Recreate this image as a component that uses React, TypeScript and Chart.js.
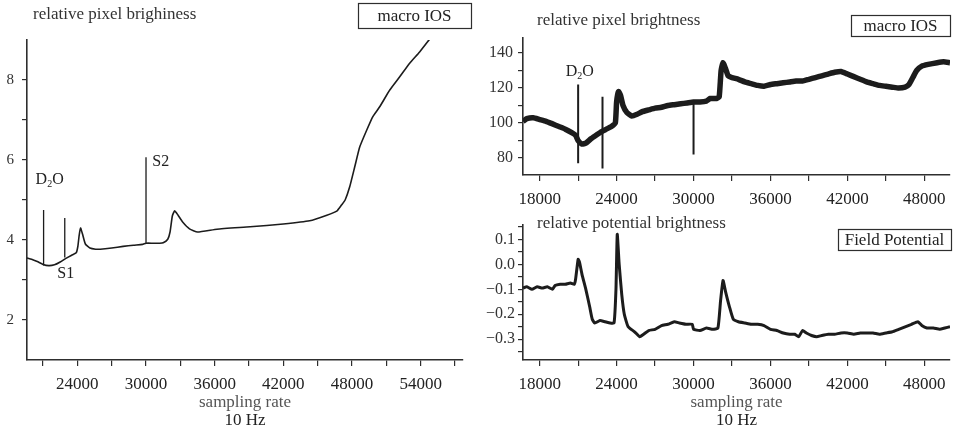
import React, { useEffect, useRef } from "react";
import { Chart, registerables } from "chart.js";

Chart.register(...registerables);

const SERIF = "'Liberation Serif', 'Times New Roman', serif";
const INK = "#1c1c1c";
const AXIS = "#2e2e2e";
const TEXT = "#333333";

// ---- Macro IOS, whole recording (left panel) ----
const iosFullX = [
  19600, 20000, 20500, 21000, 21500, 22000, 22500, 23000, 23500, 23900,
  24050, 24150, 24280, 24450, 24700, 25100, 25600, 26000, 27000, 28000,
  28900, 29700, 30000, 30600, 31200, 31500, 31900, 32100, 32300, 32500,
  32800, 33200, 33800, 34500, 36200, 39100, 42000, 44300, 45800, 46700,
  47100, 47400, 47800, 48240, 48680, 49290, 49810, 50420, 51300, 52170,
  53040, 53910, 54780,
];
const iosFullY = [
  3.55, 3.52, 3.46, 3.39, 3.36, 3.38, 3.45, 3.54, 3.62, 3.68,
  3.85, 4.1, 4.3, 4.15, 3.9, 3.8, 3.77, 3.77, 3.8, 3.84,
  3.87, 3.89, 3.92, 3.92, 3.92, 3.93, 4.02, 4.2, 4.6, 4.73,
  4.62, 4.45, 4.28, 4.2, 4.27, 4.33, 4.4, 4.48, 4.62, 4.73,
  4.88, 5.0, 5.33, 5.83, 6.33, 6.75, 7.08, 7.33, 7.75, 8.08,
  8.42, 8.7, 9.02,
];
// stimulus artifacts drawn as vertical strokes
const iosFullMarkX = [21050, 22900, 30000];
const iosFullMarkTop = [4.75, 4.55, 6.07];
const iosFullMarkBottom = [3.36, 3.56, 3.92];
const iosFullNoteText = ["D_2O", "S1", "S2"];
const iosFullNoteX = [20350, 22250, 30550];
const iosFullNoteY = [5.5, 3.15, 5.95];
const iosFullXTicks = [21000, 24000, 27000, 30000, 33000, 36000, 39000, 42000, 45000, 48000, 51000, 54000, 57000];
const iosFullYTicks = [2, 3, 4, 5, 6, 7, 8];

// ---- Macro IOS, window (right top panel) ----
const iosX = [
  16700, 17000, 17500, 18000, 18500, 19000, 19500, 20000, 20500, 20800,
  21000, 21300, 21600, 22000, 22400, 22800, 23200, 23600, 23900, 24000,
  24150, 24300, 24500, 24800, 25200, 25600, 26000, 26500, 27000, 27500,
  28000, 28500, 29000, 29500, 30000, 30500, 31000, 31300, 31800, 32000,
  32150, 32300, 32500, 32700, 33000, 33500, 34000, 34500, 35000, 35500,
  36000, 36500, 37000, 37500, 38000, 38500, 39000, 39500, 40000, 40500,
  41000, 41500, 42000, 42500, 43000, 43500, 44000, 44500, 45000, 45500,
  46000, 46500, 46800, 47100, 47400, 47800, 48300, 49000, 49500, 50000,
];
const iosY = [
  101, 102.5, 103, 102, 101, 99.5, 98, 96.5, 94.5, 93,
  90, 88, 88.5, 91, 93, 95, 96.5, 98, 100, 112,
  118, 116, 110, 106, 104, 105, 106.5, 107.5, 108.5, 109,
  110, 110.5, 111, 111.5, 112, 112, 112.5, 114, 114, 115,
  130, 134.5, 131, 127, 126, 125, 123.5, 122.5, 121.5, 121,
  122, 122.5, 123, 123.5, 124, 124, 125, 126, 127, 128,
  129, 129.5, 128, 126.5, 125, 123.5, 122.5, 121.5, 121, 120.5,
  120, 120.5, 122, 126, 130, 132.5, 133.5, 134.5, 135, 134.5,
];
const iosMarkX = [21000, 22900, 30000];
const iosMarkTop = [122, 115, 111];
const iosMarkBottom = [77, 74, 82];
const iosNoteText = ["D_2O"];
const iosNoteX = [20030];
const iosNoteY = [129];
const iosYTicks = [80, 90, 100, 110, 120, 130, 140];

// ---- Field potential (right bottom panel) ----
const fpX = [
  16700, 17000, 17400, 17800, 18200, 18600, 19000, 19200, 19600, 20000,
  20400, 20700, 20800, 21000, 21100, 21300, 21600, 21900, 22100, 22300,
  22700, 23100, 23500, 23800, 23950, 24050, 24200, 24400, 24600, 24900,
  25400, 25800, 26100, 26500, 27000, 27500, 28000, 28500, 28900, 29400,
  29900, 30000, 30500, 31000, 31500, 31900, 32100, 32300, 32500, 32800,
  33100, 33500, 34000, 34500, 35000, 35500, 36000, 36500, 37000, 37500,
  37900, 38200, 38500, 38800, 39200, 39600, 40000, 40500, 41000, 41500,
  42000, 42500, 43000, 43500, 44000, 44500, 45000, 45500, 46000, 46500,
  47000, 47500, 47800, 48200, 48700, 49200, 49600, 50000,
];
const fpY = [
  -0.095, -0.09, -0.1, -0.09, -0.095, -0.09, -0.1, -0.085, -0.08, -0.08,
  -0.075, -0.08, -0.06, 0.02, 0.01, -0.04, -0.1, -0.17, -0.22, -0.235,
  -0.225, -0.23, -0.235, -0.235, -0.1, 0.12, 0.0, -0.12, -0.2, -0.25,
  -0.27, -0.29, -0.28, -0.265, -0.26, -0.245, -0.24, -0.23, -0.235, -0.24,
  -0.24, -0.26, -0.265, -0.255, -0.26, -0.255, -0.15, -0.065, -0.11, -0.17,
  -0.22, -0.23, -0.235, -0.24, -0.24, -0.245, -0.26, -0.265, -0.275, -0.28,
  -0.28, -0.29, -0.265, -0.275, -0.285, -0.29, -0.285, -0.28, -0.28, -0.275,
  -0.275, -0.28, -0.275, -0.275, -0.275, -0.28, -0.275, -0.27, -0.26, -0.25,
  -0.24, -0.23, -0.245, -0.255, -0.255, -0.26, -0.255, -0.25,
];
const fpYTicks = [-35, -30, -25, -20, -15, -10, -5, 0, 5, 10, 15].map((v) => v / 100);

// shared x ticks for the two right panels
const windowXTicks = [18000, 21000, 24000, 27000, 30000, 33000, 36000, 39000, 42000, 45000, 48000];

type Note = { text: string; x: number; y: number };
type Decor = {
  title: { text: string; x: number; y: number };
  legend: { text: string; box: [number, number, number, number] };
  notes: Note[];
  axisTitle?: { y: number };
};

function drawNote(ctx: CanvasRenderingContext2D, text: string, x: number, y: number, size: number) {
  // "_" marks the next character as a subscript
  let cx = x;
  for (let i = 0; i < text.length; i++) {
    const ch = text[i];
    if (ch === "_" && i + 1 < text.length) {
      const sub = text[i + 1];
      ctx.font = `${Math.round(size * 0.6)}px ${SERIF}`;
      ctx.fillText(sub, cx, y + size * 0.28);
      cx += ctx.measureText(sub).width;
      i++;
    } else {
      ctx.font = `${size}px ${SERIF}`;
      ctx.fillText(ch, cx, y);
      cx += ctx.measureText(ch).width;
    }
  }
}

const decorPlugin = {
  id: "decor",
  afterDraw(chart: any, _args: any, opts: Decor) {
    const { ctx, scales, chartArea } = chart;
    ctx.save();
    ctx.fillStyle = TEXT;
    ctx.textBaseline = "middle";
    ctx.textAlign = "left";
    ctx.font = `17px ${SERIF}`;
    ctx.fillText(opts.title.text, opts.title.x, opts.title.y);

    const [l, t, r, b] = opts.legend.box;
    ctx.strokeStyle = AXIS;
    ctx.lineWidth = 1.2;
    ctx.strokeRect(l + 0.5, t + 0.5, r - l, b - t);
    ctx.textAlign = "center";
    ctx.fillStyle = "#222";
    ctx.fillText(opts.legend.text, (l + r) / 2, (t + b) / 2 + 1);

    ctx.textAlign = "left";
    ctx.fillStyle = "#222";
    for (const n of opts.notes) {
      drawNote(ctx, n.text, scales.x.getPixelForValue(n.x), scales.y.getPixelForValue(n.y), 16);
    }

    if (opts.axisTitle) {
      const cx = (chartArea.left + chartArea.right) / 2;
      ctx.textAlign = "center";
      ctx.font = `17px ${SERIF}`;
      ctx.fillStyle = "#555";
      ctx.fillText("sampling rate", cx, opts.axisTitle.y);
      ctx.fillStyle = "#222";
      ctx.fillText("10 Hz", cx, opts.axisTitle.y + 18);
    }
    ctx.restore();
  },
};

type PanelSpec = {
  w: number;
  h: number;
  area: { l: number; t: number; r: number; b: number };
  xs: number[];
  ys: number[];
  markX: number[];
  markTop: number[];
  markBottom: number[];
  lineWidth: number;
  markWidth: number;
  xMin: number;
  xMax: number;
  xTicks: number[];
  yMin: number;
  yMax: number;
  yTicks: number[];
  yLabel: (v: number) => string;
  yFont: number;
  yPad: number;
  decor: Decor;
};

function buildConfig(p: PanelSpec): any {
  const series = p.xs.map((x, i) => ({ x, y: p.ys[i] }));
  const marks: any[] = [];
  p.markX.forEach((x, i) => {
    marks.push({ x, y: p.markTop[i] }, { x, y: p.markBottom[i] }, { x, y: null });
  });
  return {
    type: "line",
    data: {
      datasets: [
        {
          data: series,
          borderColor: INK,
          borderWidth: p.lineWidth,
          pointRadius: 0,
          tension: 0.15,
          fill: false,
        },
        {
          data: marks,
          borderColor: INK,
          borderWidth: p.markWidth,
          pointRadius: 0,
          spanGaps: false,
          fill: false,
        },
      ],
    },
    options: {
      responsive: false,
      animation: false,
      events: [],
      layout: { padding: { left: 0, top: p.area.t, right: p.w - p.area.r, bottom: 0 } },
      plugins: {
        legend: { display: false },
        tooltip: { enabled: false },
        decor: p.decor,
      },
      scales: {
        x: {
          type: "linear",
          min: p.xMin,
          max: p.xMax,
          afterBuildTicks: (s: any) => {
            s.ticks = p.xTicks.map((value) => ({ value }));
          },
          afterFit: (s: any) => {
            s.height = p.h - p.area.b;
          },
          ticks: {
            autoSkip: false,
            maxRotation: 0,
            padding: 8,
            color: "#222",
            font: { family: SERIF, size: 17 },
            callback: (v: number) => (v % 6000 === 0 ? String(v) : ""),
          },
          grid: { drawOnChartArea: false, drawTicks: true, tickLength: 6, color: AXIS, lineWidth: 1.2 },
          border: { color: AXIS, width: 1.6 },
        },
        y: {
          type: "linear",
          min: p.yMin,
          max: p.yMax,
          afterBuildTicks: (s: any) => {
            s.ticks = p.yTicks.map((value) => ({ value }));
          },
          afterFit: (s: any) => {
            s.width = p.area.l;
          },
          ticks: {
            autoSkip: false,
            padding: p.yPad,
            color: "#333",
            font: { family: SERIF, size: p.yFont },
            callback: (v: number) => p.yLabel(v),
          },
          grid: { drawOnChartArea: false, drawTicks: true, tickLength: 5, color: AXIS, lineWidth: 1.2 },
          border: { color: AXIS, width: 1.6 },
        },
      },
    },
    plugins: [decorPlugin],
  };
}

const leftSpec: PanelSpec = {
  w: 480,
  h: 432,
  area: { l: 27, t: 40, r: 463, b: 360 },
  xs: iosFullX,
  ys: iosFullY,
  markX: iosFullMarkX,
  markTop: iosFullMarkTop,
  markBottom: iosFullMarkBottom,
  lineWidth: 1.6,
  markWidth: 1.3,
  xMin: 19600,
  xMax: 57700,
  xTicks: iosFullXTicks,
  yMin: 1,
  yMax: 9,
  yTicks: iosFullYTicks,
  yLabel: (v) => (v % 2 === 0 ? String(v) : ""),
  yFont: 15,
  yPad: 8,
  decor: {
    title: { text: "relative pixel brighiness", x: 33, y: 15 },
    legend: { text: "macro IOS", box: [358, 3, 471, 28] },
    notes: iosFullNoteText.map((text, i) => ({ text, x: iosFullNoteX[i], y: iosFullNoteY[i] })),
    axisTitle: { y: 403 },
  },
};

const topSpec: PanelSpec = {
  w: 478,
  h: 215,
  area: { l: 43, t: 38, r: 470, b: 175 },
  xs: iosX,
  ys: iosY,
  markX: iosMarkX,
  markTop: iosMarkTop,
  markBottom: iosMarkBottom,
  lineWidth: 5.5,
  markWidth: 2,
  xMin: 16700,
  xMax: 50000,
  xTicks: windowXTicks,
  yMin: 70.3,
  yMax: 148.6,
  yTicks: iosYTicks,
  yLabel: (v) => (v % 20 === 0 ? String(v) : ""),
  yFont: 16,
  yPad: 5,
  decor: {
    title: { text: "relative pixel brightness", x: 57, y: 21 },
    legend: { text: "macro IOS", box: [371, 15, 470, 36] },
    notes: iosNoteText.map((text, i) => ({ text, x: iosNoteX[i], y: iosNoteY[i] })),
  },
};

const bottomSpec: PanelSpec = {
  w: 478,
  h: 220,
  area: { l: 43, t: 11, r: 470, b: 148 },
  xs: fpX,
  ys: fpY,
  markX: [],
  markTop: [],
  markBottom: [],
  lineWidth: 3,
  markWidth: 1,
  xMin: 16700,
  xMax: 50000,
  xTicks: windowXTicks,
  yMin: -0.383,
  yMax: 0.159,
  yTicks: fpYTicks,
  yLabel: (v) => {
    const k = Math.round(v * 100);
    if (k % 10 !== 0) return "";
    return (k / 100).toFixed(1).replace("-", "\u2212");
  },
  yFont: 16,
  yPad: 3,
  decor: {
    title: { text: "relative potential brightness", x: 57, y: 12 },
    legend: { text: "Field Potential", box: [358, 17, 471, 38] },
    notes: [],
    axisTitle: { y: 191 },
  },
};

function Panel({ spec, left, top }: { spec: PanelSpec; left: number; top: number }) {
  const ref = useRef<HTMLCanvasElement>(null);
  useEffect(() => {
    const chart = new Chart(ref.current as HTMLCanvasElement, buildConfig(spec));
    return () => chart.destroy();
  }, [spec]);
  return (
    <div style={{ position: "absolute", left, top, width: spec.w, height: spec.h }}>
      <canvas ref={ref} width={spec.w} height={spec.h} style={{ display: "block" }} />
    </div>
  );
}

export default function App() {
  return (
    <div style={{ position: "fixed", left: 0, top: 0, width: 958, height: 432, background: "#fff", overflow: "hidden" }}>
      <Panel spec={leftSpec} left={0} top={0} />
      <Panel spec={topSpec} left={480} top={0} />
      <Panel spec={bottomSpec} left={480} top={212} />
    </div>
  );
}
